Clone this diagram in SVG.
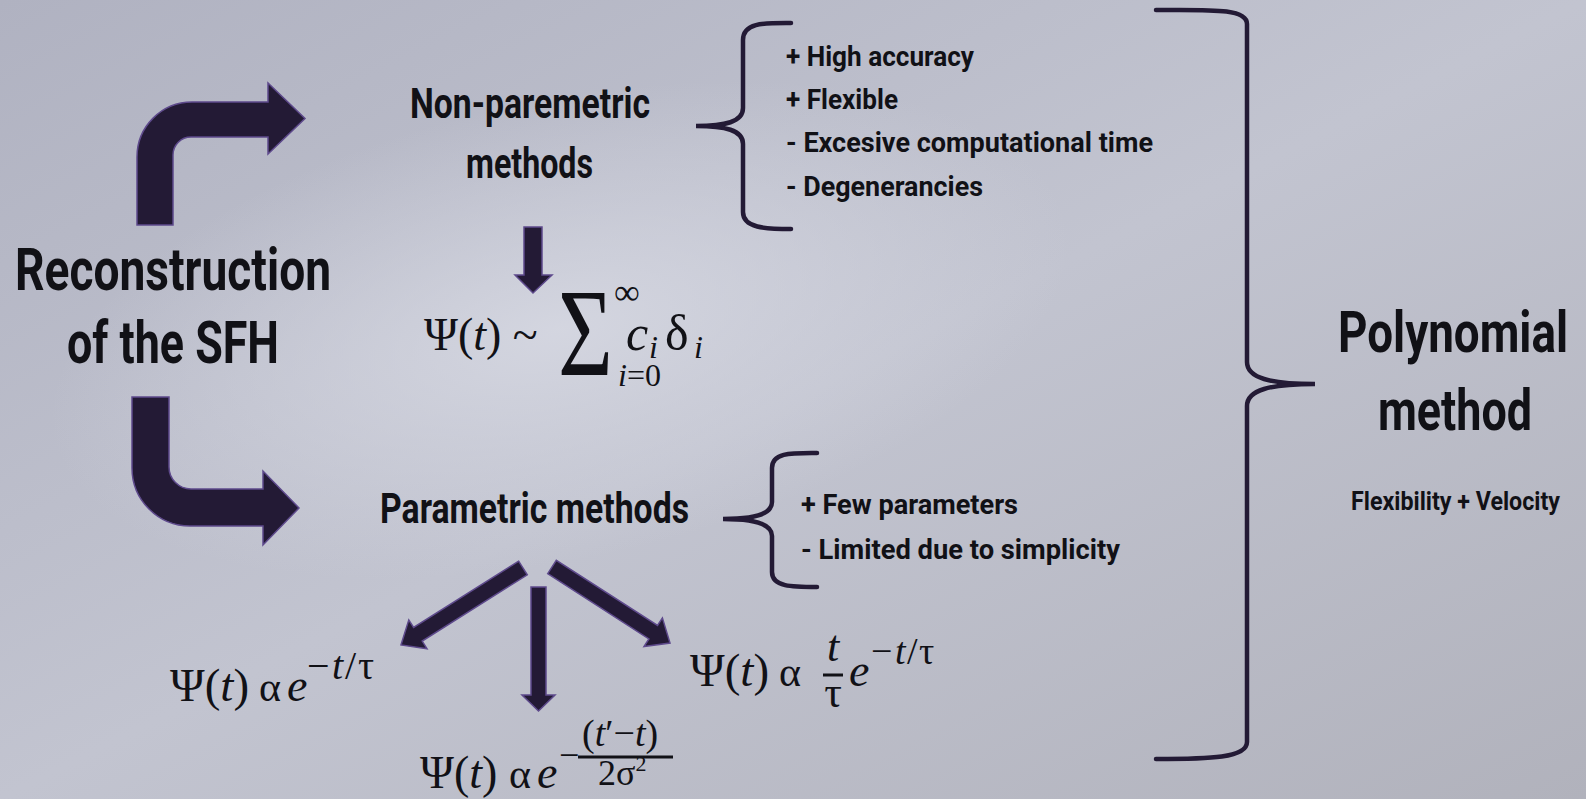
<svg xmlns="http://www.w3.org/2000/svg" width="1586" height="799" viewBox="0 0 1586 799">
<defs>
<linearGradient id="bg" x1="0" y1="0" x2="1" y2="1">
<stop offset="0" stop-color="#b0b2c1"/>
<stop offset="0.5" stop-color="#c2c4d0"/>
<stop offset="1" stop-color="#b1b2bc"/>
</linearGradient>
<radialGradient id="glow" cx="0.5" cy="0.5" r="0.5">
<stop offset="0" stop-color="#d6d8e2" stop-opacity="0.9"/>
<stop offset="1" stop-color="#d6d8e2" stop-opacity="0"/>
</radialGradient>
<style>
.lab{font-family:Roboto,"Liberation Sans",sans-serif;font-weight:700;fill:#111116}
.poly{font-family:Roboto,"Liberation Sans",sans-serif;font-weight:700;fill:#111116}
.m{font-family:"Liberation Serif","DejaVu Serif",serif;fill:#111116}
.i{font-style:italic}
.arr{fill:#231a35;stroke:#5e4a8c;stroke-width:1.5;stroke-linejoin:miter}
.brace{fill:none;stroke:#231a35;stroke-width:4.5;stroke-linecap:round}
.bar{stroke:#111116;stroke-width:3}
</style>
</defs>
<rect width="1586" height="799" fill="url(#bg)"/>
<ellipse cx="560" cy="330" rx="520" ry="230" fill="url(#glow)" transform="rotate(-12 560 330)"/>

<g id="connectors">
<path class="arr" d="M137,225 V157 A55,55 0 0 1 192,102 H268 V83 L305,118.5 L268,154 V137 H191 A18,18 0 0 0 173,155 V225 Z"/>
<path class="arr" d="M132,397 H169 V467 A22,22 0 0 0 191,489 H263 V471 L299,508 L263,545 V526 H190 A58,58 0 0 1 132,468 Z"/>
<path class="arr" d="M524,227 H542 V275 H552 L533,293 L515,275 H524 Z"/>
<path class="arr" d="M518.7,561.2 L413.6,627.5 L408.8,619.9 L401,645 L427,648.7 L422.2,641.1 L527.3,574.8 Z"/>
<path class="arr" d="M547.7,573.7 L648.9,638.9 L644,646.5 L670,643 L662.4,617.9 L657.5,625.5 L556.3,560.3 Z"/>
<path class="arr" d="M531,587 H546 V695 H555 L538.5,711 L522,695 H531 Z"/>
<path class="brace" d="M791,23 C765,23 743,22 743,40 L743,108 C743,122 725,126 696,126 C725,126 743,130 743,144 L743,212 C743,228 765,229 791,229"/>
<path class="brace" d="M817,453 C792,453 772,452 772,468 L772,502 C772,515 752,519 723,519 C752,519 772,523 772,536 L772,572 C772,587 792,587 817,587"/>
<path class="brace" d="M1156,10 C1210,10 1247,8 1247,24 L1247,362 C1247,378 1270,384 1315,384 C1270,384 1247,390 1247,406 L1247,742 C1247,758 1210,759 1156,759"/>
</g>

<g id="node-reconstruction">
<text class="lab" x="15" y="290" font-size="60" textLength="316" lengthAdjust="spacingAndGlyphs">Reconstruction</text>
<text class="lab" x="67" y="363" font-size="60" textLength="212" lengthAdjust="spacingAndGlyphs">of the SFH</text>
</g>

<g id="node-nonparametric">
<text class="lab" x="410" y="118" font-size="42" textLength="240" lengthAdjust="spacingAndGlyphs">Non-paremetric</text>
<text class="lab" x="466" y="178" font-size="42" textLength="127" lengthAdjust="spacingAndGlyphs">methods</text>
</g>

<g id="node-nonparametric-props">
<text class="lab" x="786" y="66" font-size="28" textLength="188" lengthAdjust="spacingAndGlyphs">+ High accuracy</text>
<text class="lab" x="786" y="109" font-size="28" textLength="112" lengthAdjust="spacingAndGlyphs">+ Flexible</text>
<text class="lab" x="786" y="152" font-size="28" textLength="367" lengthAdjust="spacingAndGlyphs">- Excesive computational time</text>
<text class="lab" x="786" y="196" font-size="28" textLength="197" lengthAdjust="spacingAndGlyphs">- Degenerancies</text>
</g>

<g id="node-sum">
<text class="m" x="424" y="350" font-size="46">Ψ(<tspan class="i">t</tspan>) ~</text>
<text class="m" x="0" y="0" font-size="124" transform="translate(558,375) scale(0.76,1)">Σ</text>
<text class="m" x="614" y="304" font-size="36">∞</text>
<text class="m" x="618" y="386" font-size="32"><tspan class="i">i</tspan>=0</text>
<text class="m i" x="626" y="350" font-size="50">c</text>
<text class="m i" x="649" y="358" font-size="32">i</text>
<text class="m" x="665" y="350" font-size="50">δ</text>
<text class="m i" x="694" y="358" font-size="32">i</text>
</g>

<g id="node-parametric">
<text class="lab" x="380" y="523" font-size="42" textLength="309" lengthAdjust="spacingAndGlyphs">Parametric methods</text>
</g>

<g id="node-parametric-props">
<text class="lab" x="801" y="514" font-size="28" textLength="217" lengthAdjust="spacingAndGlyphs">+ Few parameters</text>
<text class="lab" x="801" y="559" font-size="28" textLength="319" lengthAdjust="spacingAndGlyphs">- Limited due to simplicity</text>
</g>

<g id="node-exp">
<text class="m" x="170" y="701" font-size="47">Ψ(<tspan class="i">t</tspan>)</text>
<text class="m" x="259" y="701" font-size="42">α</text>
<text class="m i" x="287" y="701" font-size="46">e</text>
<text class="m" x="307" y="679" font-size="40">−</text>
<text class="m i" x="332" y="679" font-size="40">t</text>
<text class="m" x="345" y="679" font-size="40">/</text>
<text class="m" x="358" y="679" font-size="40">τ</text>
</g>

<g id="node-gauss">
<text class="m" x="420" y="788" font-size="46">Ψ(<tspan class="i">t</tspan>)</text>
<text class="m" x="509" y="788" font-size="42">α</text>
<text class="m i" x="537" y="788" font-size="46">e</text>
<text class="m" x="559" y="767" font-size="36">−</text>
<line class="bar" x1="578" y1="757" x2="673" y2="757"/>
<text class="m" x="582" y="746" font-size="38">(<tspan class="i">t</tspan>′−<tspan class="i">t</tspan>)</text>
<text class="m" x="598" y="785" font-size="36">2σ<tspan font-size="22" dy="-14">2</tspan></text>
</g>

<g id="node-delayed">
<text class="m" x="690" y="686" font-size="47">Ψ(<tspan class="i">t</tspan>)</text>
<text class="m" x="779" y="686" font-size="42">α</text>
<text class="m i" x="833" y="661" font-size="44" text-anchor="middle">t</text>
<line class="bar" x1="823" y1="675" x2="843" y2="675"/>
<text class="m" x="833" y="707" font-size="44" text-anchor="middle">τ</text>
<text class="m i" x="849" y="686" font-size="46">e</text>
<text class="m" x="871" y="664" font-size="38">−</text>
<text class="m i" x="895" y="664" font-size="38">t</text>
<text class="m" x="907" y="664" font-size="38">/</text>
<text class="m" x="919" y="664" font-size="38">τ</text>
</g>

<g id="node-polynomial">
<text class="poly" x="1338" y="352" font-size="58" textLength="230" lengthAdjust="spacingAndGlyphs">Polynomial</text>
<text class="poly" x="1378" y="430" font-size="58" textLength="154" lengthAdjust="spacingAndGlyphs">method</text>
<text class="poly" x="1351" y="510" font-size="26" textLength="209" lengthAdjust="spacingAndGlyphs">Flexibility + Velocity</text>
</g>
</svg>
